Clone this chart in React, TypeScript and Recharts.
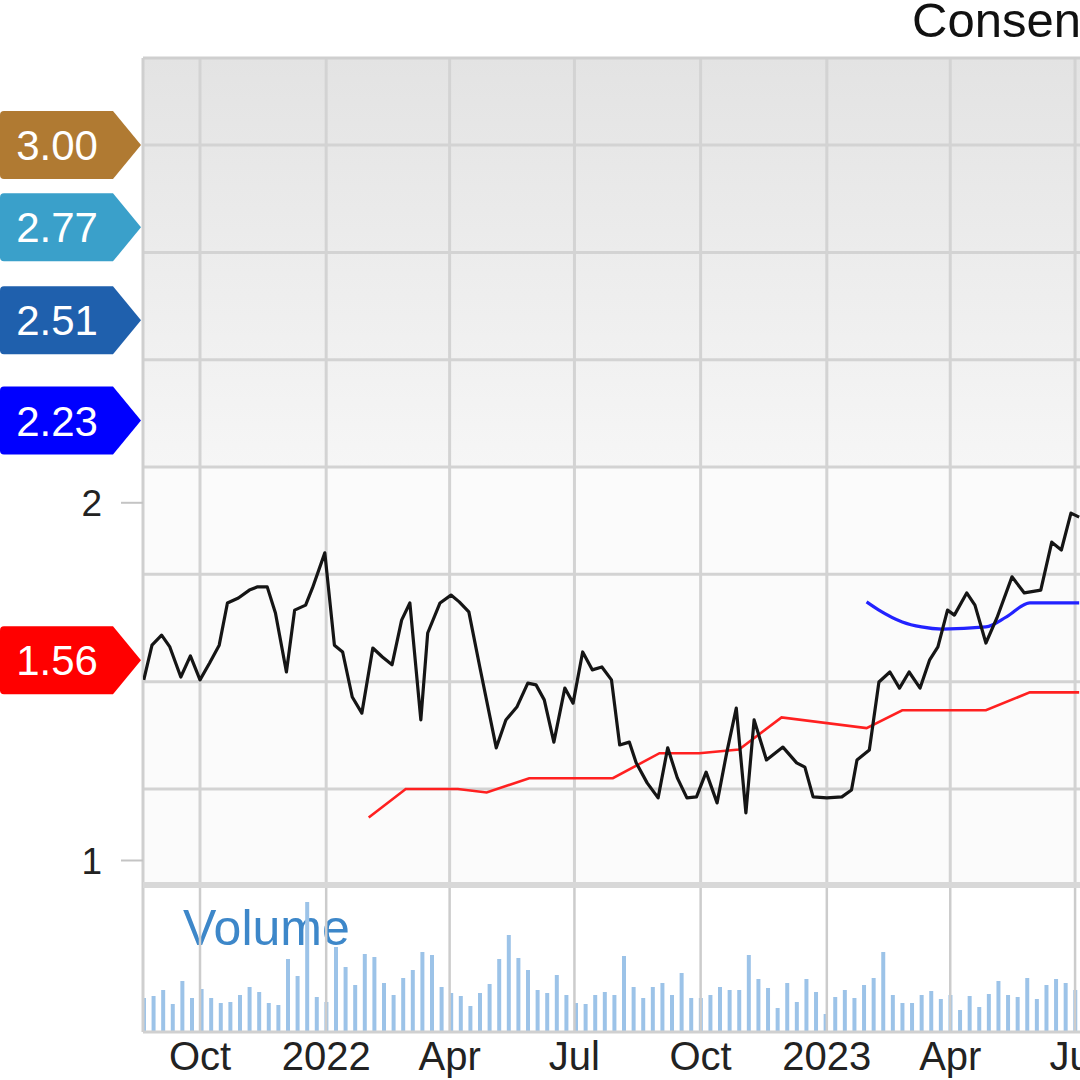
import React from 'react';
import {
  ComposedChart,
  Line,
  Bar,
  XAxis,
  YAxis,
  ReferenceLine,
  ReferenceArea,
  ReferenceDot,
} from 'recharts';

const FONT = '"Liberation Sans", Arial, Helvetica, sans-serif';

// ---- price (weekly close) ----
const priceDates = [
  '2021-08-21', '2021-08-27', '2021-09-03', '2021-09-09', '2021-09-17', '2021-09-24',
  '2021-10-01', '2021-10-08', '2021-10-15', '2021-10-21', '2021-10-29', '2021-11-06',
  '2021-11-12', '2021-11-19', '2021-11-25', '2021-12-03', '2021-12-09', '2021-12-17',
  '2021-12-22', '2021-12-31', '2022-01-07', '2022-01-13', '2022-01-20', '2022-01-27',
  '2022-02-04', '2022-02-11', '2022-02-18', '2022-02-25', '2022-03-03', '2022-03-11',
  '2022-03-16', '2022-03-25', '2022-04-02', '2022-04-08', '2022-04-15', '2022-04-23',
  '2022-05-05', '2022-05-12', '2022-05-20', '2022-05-28', '2022-06-03', '2022-06-09',
  '2022-06-16', '2022-06-24', '2022-06-30', '2022-07-07', '2022-07-14', '2022-07-21',
  '2022-07-28', '2022-08-03', '2022-08-10', '2022-08-15', '2022-08-23', '2022-08-31',
  '2022-09-07', '2022-09-14', '2022-09-21', '2022-09-28', '2022-10-05', '2022-10-13',
  '2022-10-20', '2022-10-27', '2022-11-03', '2022-11-09', '2022-11-18', '2022-11-30',
  '2022-12-10', '2022-12-16', '2022-12-22', '2023-01-01', '2023-01-12', '2023-01-19',
  '2023-01-23', '2023-02-01', '2023-02-08', '2023-02-16', '2023-02-23', '2023-03-02',
  '2023-03-10', '2023-03-17', '2023-03-23', '2023-03-30', '2023-04-04', '2023-04-13',
  '2023-04-19', '2023-04-27', '2023-05-05', '2023-05-16', '2023-05-25', '2023-06-06',
  '2023-06-14', '2023-06-21', '2023-06-28', '2023-07-04',
];
const priceValues = [
  1.505, 1.602, 1.630, 1.597, 1.513, 1.572,
  1.505, 1.552, 1.602, 1.720, 1.734, 1.756,
  1.765, 1.765, 1.692, 1.527, 1.700, 1.714,
  1.762, 1.860, 1.602, 1.583, 1.457, 1.412,
  1.594, 1.569, 1.547, 1.672, 1.720, 1.393,
  1.636, 1.720, 1.742, 1.723, 1.695, 1.541,
  1.315, 1.393, 1.429, 1.496, 1.491, 1.449,
  1.331, 1.482, 1.440, 1.583, 1.533, 1.541,
  1.505, 1.323, 1.331, 1.273, 1.217, 1.175,
  1.315, 1.231, 1.175, 1.178, 1.247, 1.161,
  1.301, 1.426, 1.133, 1.393, 1.281, 1.317,
  1.273, 1.261, 1.178, 1.175, 1.178, 1.197,
  1.281, 1.309, 1.499, 1.527, 1.482, 1.527,
  1.482, 1.561, 1.597, 1.700, 1.686, 1.748,
  1.714, 1.608, 1.678, 1.793, 1.748, 1.756,
  1.890, 1.868, 1.971, 1.960,
];

// ---- consensus estimate, current year (red) ----
const currYearDates = [
  '2022-02-01', '2022-02-28', '2022-04-07', '2022-04-28', '2022-05-29', '2022-07-29',
  '2022-09-01', '2022-09-30', '2022-10-29', '2022-11-29', '2023-01-30', '2023-02-25',
  '2023-04-27', '2023-05-29', '2023-07-04',
];
const currYearValues = [
  1.12, 1.20, 1.20, 1.19, 1.23, 1.23,
  1.30, 1.30, 1.31, 1.40, 1.37, 1.42,
  1.42, 1.47, 1.47,
];

// ---- consensus estimate, next year (blue) ----
const nextYearDates = [
  '2023-01-30', '2023-02-08', '2023-02-25', '2023-03-11', '2023-03-26',
  '2023-04-27', '2023-05-12', '2023-05-29', '2023-07-04',
];
const nextYearValues = [1.723, 1.700, 1.667, 1.653, 1.647, 1.653, 1.681, 1.720, 1.720];

// ---- weekly volume ----
const volumeDates = [
  '2021-08-21', '2021-08-28', '2021-09-04', '2021-09-11', '2021-09-18', '2021-09-25',
  '2021-10-02', '2021-10-09', '2021-10-16', '2021-10-23', '2021-10-30', '2021-11-06',
  '2021-11-13', '2021-11-20', '2021-11-27', '2021-12-04', '2021-12-11', '2021-12-18',
  '2021-12-25', '2022-01-01', '2022-01-08', '2022-01-15', '2022-01-22', '2022-01-29',
  '2022-02-05', '2022-02-12', '2022-02-19', '2022-02-26', '2022-03-05', '2022-03-12',
  '2022-03-19', '2022-03-26', '2022-04-02', '2022-04-09', '2022-04-16', '2022-04-23',
  '2022-04-30', '2022-05-07', '2022-05-14', '2022-05-21', '2022-05-28', '2022-06-04',
  '2022-06-11', '2022-06-18', '2022-06-25', '2022-07-02', '2022-07-09', '2022-07-16',
  '2022-07-23', '2022-07-30', '2022-08-06', '2022-08-13', '2022-08-20', '2022-08-27',
  '2022-09-03', '2022-09-10', '2022-09-17', '2022-09-24', '2022-10-01', '2022-10-08',
  '2022-10-15', '2022-10-22', '2022-10-29', '2022-11-05', '2022-11-12', '2022-11-19',
  '2022-11-26', '2022-12-03', '2022-12-10', '2022-12-17', '2022-12-24', '2022-12-31',
  '2023-01-07', '2023-01-14', '2023-01-21', '2023-01-28', '2023-02-04', '2023-02-11',
  '2023-02-18', '2023-02-25', '2023-03-04', '2023-03-11', '2023-03-18', '2023-03-25',
  '2023-04-01', '2023-04-08', '2023-04-15', '2023-04-22', '2023-04-29', '2023-05-06',
  '2023-05-13', '2023-05-20', '2023-05-27', '2023-06-03', '2023-06-10', '2023-06-17',
  '2023-06-24', '2023-07-01',
];
const volumeValues = [
  34, 36, 42, 28, 51, 34, 43, 34, 29, 30, 37, 45, 40, 29, 27, 73, 56, 130, 35, 30,
  85, 65, 47, 78, 75, 49, 37, 54, 62, 80, 77, 45, 39,
  36, 26, 39, 48, 73, 97, 74, 62, 42, 39, 57, 37, 29, 28, 37, 40, 37, 76, 45, 34,
  45, 49, 37, 59, 34, 34, 37, 45, 42, 42, 77, 53, 44,
  24, 49, 30, 53, 40, 18, 35, 42, 34, 47, 54, 80, 37, 29, 29, 37, 41, 33, 37, 22,
  36, 25, 38, 51, 37, 35, 54, 33, 47, 53, 49, 42,
];

// ---- axes ----
const quarterTicks = [
  '2021-10-01', '2022-01-01', '2022-04-01', '2022-07-01',
  '2022-10-01', '2023-01-01', '2023-04-01', '2023-07-01',
];
const quarterLabels = ['Oct', '2022', 'Apr', 'Jul', 'Oct', '2023', 'Apr', 'Jul'];
const priceTicks = [1, 2];
const priceGridValues = [3.0, 2.7, 2.4, 2.1, 1.8, 1.5, 1.2];

// ---- price-target badges ----
const badgeValues = [3.0, 2.77, 2.51, 2.23, 1.56];
const badgeLabels = ['3.00', '2.77', '2.51', '2.23', '1.56'];
const badgeColors = ['#b07a32', '#3aa0ca', '#1f60ad', '#0000ff', '#ff0000'];

const toT = (s: string) => Date.parse(s + 'T00:00:00Z');

const X_START = Date.UTC(2021, 7, 20, 10, 30);
const X_END = Date.UTC(2023, 6, 4, 14, 24);
const P_MIN = 0.9315;
const P_MAX = 3.2435;
const V_MAX = 147;

const tickTimes = quarterTicks.map(toT);
const tickLabelMap: Record<number, string> = {};
tickTimes.forEach((t, i) => {
  tickLabelMap[t] = quarterLabels[i];
});

function buildPriceData() {
  const map = new Map<number, any>();
  const put = (dates: string[], vals: number[], key: string) => {
    dates.forEach((d, i) => {
      const t = toT(d);
      const row = map.get(t) || { t };
      row[key] = vals[i];
      map.set(t, row);
    });
  };
  put(priceDates, priceValues, 'price');
  put(currYearDates, currYearValues, 'curr');
  put(nextYearDates, nextYearValues, 'next');
  return Array.from(map.values()).sort((a, b) => a.t - b.t);
}

const priceData = buildPriceData();
const volumeData = volumeDates.map((d, i) => ({ t: toT(d), vol: volumeValues[i] }));

const Badge = (props: any) => {
  const { cx, cy, color, label } = props;
  if (cx == null || cy == null) return null;
  const l = cx - 143;
  const h = 34;
  const d = `M ${l + 4} ${cy - h} L ${cx - 30} ${cy - h} L ${cx - 2} ${cy} L ${cx - 30} ${cy + h} L ${l + 4} ${cy + h} Q ${l} ${cy + h} ${l} ${cy + h - 4} L ${l} ${cy - h + 4} Q ${l} ${cy - h} ${l + 4} ${cy - h} Z`;
  return (
    <g>
      <path d={d} fill={color} />
      <text
        x={l + 57}
        y={cy + 15}
        textAnchor="middle"
        fill="#ffffff"
        fontSize={42}
        fontFamily={FONT}
      >
        {label}
      </text>
    </g>
  );
};

export default function App() {
  return (
    <div
      style={{
        position: 'absolute',
        left: 0,
        top: 0,
        width: 1080,
        height: 1080,
        background: '#ffffff',
        overflow: 'hidden',
        fontFamily: FONT,
      }}
    >
      <svg width={1080} height={1080} style={{ position: 'absolute', left: 0, top: 0 }}>
        <text x={912} y={37} fontSize={49} fill="#111" fontFamily={FONT}>
          Consensus
        </text>
        <text x={183} y={945} fontSize={50} fill="#3d87c9" fontFamily={FONT}>
          Volume
        </text>
      </svg>

      {/* price pane */}
      <div style={{ position: 'absolute', left: 0, top: 0 }}>
        <ComposedChart
          width={1080}
          height={885}
          data={priceData}
          margin={{ top: 58, right: 0, bottom: 0, left: 0 }}
        >
          <defs>
            <linearGradient id="bgGrad" x1="0" y1="0" x2="0" y2="1">
              <stop offset="0%" stopColor="#e3e3e3" />
              <stop offset="100%" stopColor="#f6f6f6" />
            </linearGradient>
          </defs>
          <XAxis
            xAxisId="x"
            dataKey="t"
            type="number"
            domain={[X_START, X_END]}
            allowDataOverflow
            hide
          />
          <YAxis
            yAxisId="p"
            type="number"
            domain={[P_MIN, P_MAX]}
            allowDataOverflow
            ticks={priceTicks}
            width={143}
            axisLine={false}
            tickSize={22}
            tickMargin={19}
            tickLine={{ stroke: '#c4c4c4', strokeWidth: 2 }}
            tick={{ fill: '#222', fontSize: 37, fontFamily: FONT }}
            tickFormatter={(v: number) => String(v)}
          />
          <ReferenceArea
            xAxisId="x"
            yAxisId="p"
            x1={X_START}
            x2={X_END}
            y1={2.1}
            y2={P_MAX}
            fill="url(#bgGrad)"
            fillOpacity={1}
            stroke="none"
            ifOverflow="visible"
          />
          <ReferenceArea
            xAxisId="x"
            yAxisId="p"
            x1={X_START}
            x2={X_END}
            y1={P_MIN}
            y2={2.1}
            fill="#fbfbfb"
            fillOpacity={1}
            stroke="none"
            ifOverflow="visible"
          />
          {priceGridValues.map((v) => (
            <ReferenceLine
              key={'h' + v}
              xAxisId="x"
              yAxisId="p"
              y={v}
              stroke="#d3d3d3"
              strokeWidth={3}
            />
          ))}
          {tickTimes.map((t) => (
            <ReferenceLine
              key={'v' + t}
              xAxisId="x"
              yAxisId="p"
              x={t}
              stroke="#d3d3d3"
              strokeWidth={3}
            />
          ))}
          <ReferenceLine xAxisId="x" yAxisId="p" y={P_MAX} stroke="#cfcfcf" strokeWidth={3} />
          <ReferenceLine xAxisId="x" yAxisId="p" x={X_START} stroke="#cfcfcf" strokeWidth={3} />
          <ReferenceLine xAxisId="x" yAxisId="p" y={P_MIN} stroke="#d8d8d8" strokeWidth={6} />
          <Line
            xAxisId="x"
            yAxisId="p"
            dataKey="curr"
            type="linear"
            stroke="#ff2020"
            strokeWidth={2.6}
            dot={false}
            connectNulls
            isAnimationActive={false}
          />
          <Line
            xAxisId="x"
            yAxisId="p"
            dataKey="next"
            type="monotone"
            stroke="#2222ff"
            strokeWidth={3.2}
            dot={false}
            connectNulls
            isAnimationActive={false}
          />
          <Line
            xAxisId="x"
            yAxisId="p"
            dataKey="price"
            type="linear"
            stroke="#151515"
            strokeWidth={3.2}
            strokeLinejoin="round"
            dot={false}
            connectNulls
            isAnimationActive={false}
          />
          {badgeValues.map((v, i) => (
            <ReferenceDot
              key={'b' + i}
              xAxisId="x"
              yAxisId="p"
              x={X_START}
              y={v}
              r={1}
              ifOverflow="visible"
              shape={(p: any) => (
                <Badge cx={p.cx} cy={p.cy} color={badgeColors[i]} label={badgeLabels[i]} />
              )}
            />
          ))}
        </ComposedChart>
      </div>

      {/* volume pane */}
      <div style={{ position: 'absolute', left: 0, top: 870 }}>
        <ComposedChart
          width={1080}
          height={210}
          data={volumeData}
          margin={{ top: 15, right: 0, bottom: 0, left: 143 }}
        >
          <XAxis
            xAxisId="x"
            dataKey="t"
            type="number"
            domain={[X_START, X_END]}
            allowDataOverflow
            ticks={tickTimes}
            interval={0}
            height={48}
            axisLine={false}
            tickLine={false}
            tickSize={0}
            tickMargin={10}
            tick={{ fill: '#222', fontSize: 40, fontFamily: FONT }}
            tickFormatter={(v: number) => tickLabelMap[v] ?? ''}
          />
          <YAxis yAxisId="v" type="number" domain={[0, V_MAX]} allowDataOverflow hide />
          {tickTimes.map((t) => (
            <ReferenceLine
              key={'vv' + t}
              xAxisId="x"
              yAxisId="v"
              x={t}
              stroke="#cccccc"
              strokeWidth={2.5}
            />
          ))}
          <ReferenceLine xAxisId="x" yAxisId="v" x={X_START} stroke="#cfcfcf" strokeWidth={3} />
          <Bar
            xAxisId="x"
            yAxisId="v"
            dataKey="vol"
            fill="#9cc3e8"
            barSize={4}
            isAnimationActive={false}
          />
          <ReferenceLine xAxisId="x" yAxisId="v" y={0} stroke="#d0d0d0" strokeWidth={3} />
          <ReferenceLine xAxisId="x" yAxisId="v" y={V_MAX} stroke="#d8d8d8" strokeWidth={6} />
        </ComposedChart>
      </div>
    </div>
  );
}
